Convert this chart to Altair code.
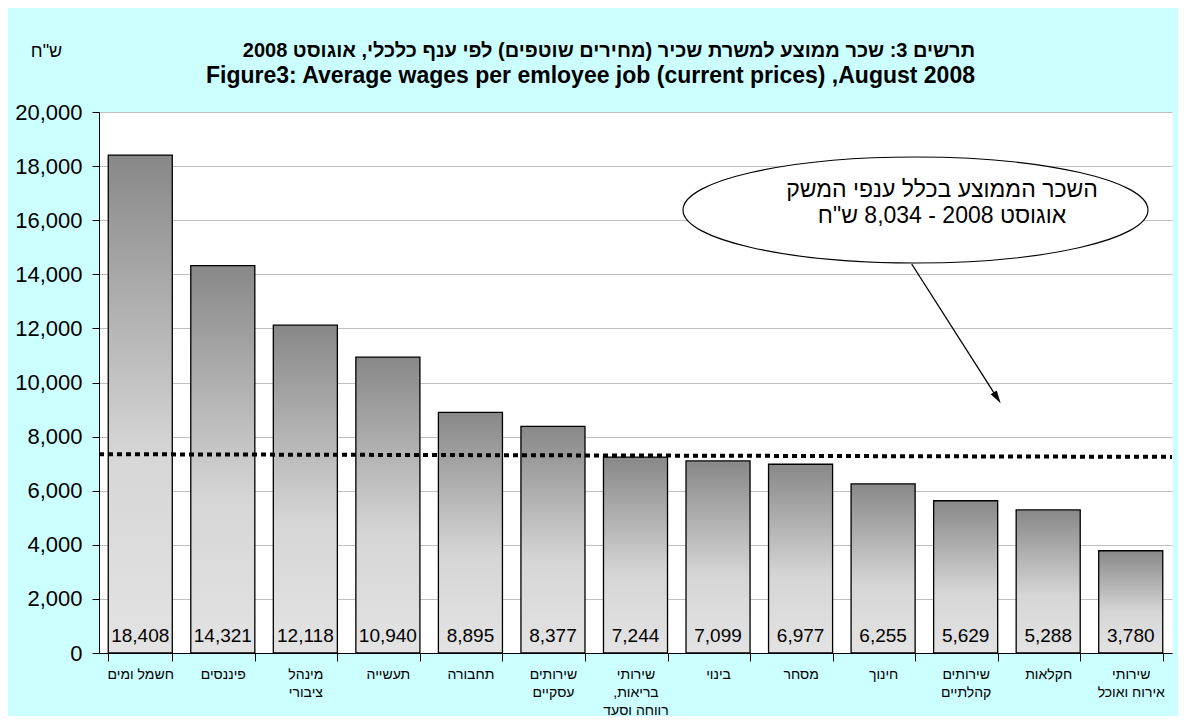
import altair as alt
import pandas as pd

# ---------------- data ----------------
categories = ["חשמל ומים", "פיננסים", "מינהל|ציבורי", "תעשייה", "תחבורה",
              "שירותים|עסקיים", "שירותי|בריאות,\u200f|רווחה וסעד", "בינוי", "מסחר",
              "חינוך", "שירותים|קהלתיים", "חקלאות", "שירותי|אירוח ואוכל"]
wages = [18408, 14321, 12118, 10940, 8895, 8377, 7244, 7099, 6977, 6255, 5629, 5288, 3780]
y_ticks = [0, 2000, 4000, 6000, 8000, 10000, 12000, 14000, 16000, 18000, 20000]
trend_start = [7350]
trend_end = [7250]
note_lines = ["השכר הממוצע בכלל ענפי המשק", "אוגוסט 2008 -  8,034 ש\"ח"]
title_he = "תרשים 3: שכר ממוצע למשרת שכיר (מחירים שוטפים) לפי ענף כלכלי, אוגוסט 2008"
title_en = "Figure3: Average wages per emloyee job (current prices) ,August 2008"
unit_label = "ש\"ח"
# annotation anchor values (data units on the y axis)
ellipse_y = [16377]
note_y = [17120]
arrow_from = [14381]
arrow_to = [9434]

FONT = "Liberation Sans"
W, H = 1073, 541

df = pd.DataFrame({"branch": categories, "wage": wages})
one = pd.DataFrame({"t0": trend_start, "t1": trend_end, "e": ellipse_y, "n": note_y,
                    "a0": arrow_from, "a1": arrow_to})

x_enc = alt.X("branch:N", sort=None,
              scale=alt.Scale(paddingInner=0.224, paddingOuter=0.112),
              axis=alt.Axis(title=None, labelAngle=0, labelExpr="split(datum.label, '|')",
                            labelFontSize=14, labelLineHeight=18, labelPadding=6,
                            tickSize=8, tickBand="extent", domainColor="black",
                            tickColor="black", labelColor="black", labelFont=FONT,
                            labelBaseline="top", labelLimit=200))
y_scale = alt.Scale(domain=[0, 20000], nice=False)
y_axis = alt.Axis(values=y_ticks, format=",d", title=unit_label, titleAngle=0,
                  titleX=-53, titleY=-61, titleFontSize=18, titleFontWeight="normal",
                  titleFont=FONT, titleAlign="center", titleBaseline="middle",
                  titleColor="black", labelFontSize=22, labelFont=FONT,
                  labelPadding=10, tickSize=7, domainColor="black",
                  tickColor="black", gridColor="#c0c0c0", labelColor="black")

gradient = alt.Gradient(gradient="linear",
                        stops=[alt.GradientStop(color="#888888", offset=0),
                               alt.GradientStop(color="#d6d6d6", offset=0.6),
                               alt.GradientStop(color="#e3e3e3", offset=1)],
                        x1=0, x2=0, y1=0, y2=1)

bars = alt.Chart(df).mark_bar(color=gradient, stroke="black", strokeWidth=1.3).encode(
    x=x_enc, y=alt.Y("wage:Q", scale=y_scale, axis=y_axis))

labels = alt.Chart(df).mark_text(font=FONT, fontSize=19, baseline="alphabetic", dy=-11,
                                 color="black").encode(
    x=alt.X("branch:N", sort=None),
    y=alt.YDatum(0, scale=y_scale, axis=y_axis),
    text=alt.Text("wage:Q", format=","))

trend = alt.Chart(one).mark_rule(color="black", strokeWidth=4, strokeDash=[5, 4]).encode(
    x=alt.value(0), x2=alt.value(W),
    y=alt.Y("t0:Q", scale=y_scale, axis=y_axis), y2="t1:Q")

k = 0.5523
ry = 0.228
ellipse_path = (f"M-1,0 C-1,{-k*ry:.4f} {-k:.4f},{-ry} 0,{-ry} "
                f"C{k:.4f},{-ry} 1,{-k*ry:.4f} 1,0 "
                f"C1,{k*ry:.4f} {k:.4f},{ry} 0,{ry} "
                f"C{-k:.4f},{ry} -1,{k*ry:.4f} -1,0 Z")

ellipse = alt.Chart(one).mark_point(shape=ellipse_path, size=465 * 465, filled=True,
                                    fill="white", stroke="black", strokeWidth=1.2,
                                    opacity=1, fillOpacity=1, strokeOpacity=1).encode(
    x=alt.value(816.5), y=alt.Y("e:Q", scale=y_scale, axis=y_axis))

note = alt.Chart(one).mark_text(text=note_lines, font=FONT, fontSize=23, align="center",
                                baseline="middle", lineHeight=26, color="black").encode(
    x=alt.value(843), y=alt.Y("n:Q", scale=y_scale, axis=y_axis))

arrow = alt.Chart(one).mark_rule(color="black", strokeWidth=1.3).encode(
    x=alt.value(812.7), x2=alt.value(898.2),
    y=alt.Y("a0:Q", scale=y_scale, axis=y_axis), y2="a1:Q")

head = alt.Chart(one).mark_point(shape="M0,-1 L0.55,1 L-0.55,1 Z", size=169, filled=True,
                                 color="black", opacity=1, angle=147.4).encode(
    x=alt.value(898.2), y=alt.Y("a1:Q", scale=y_scale, axis=y_axis))

chart = alt.layer(bars, labels, trend, ellipse, note, arrow, head).properties(
    width=W, height=H,
    autosize=alt.AutoSizeParams(type="none"),
    padding={"left": 91, "top": 104, "right": 6, "bottom": 63},
    background="#CCFFFF",
    title=alt.TitleParams(text=title_he, subtitle=title_en, font=FONT, fontSize=20,
                          fontWeight="bold", subtitleFont=FONT, subtitleFontSize=23,
                          subtitleFontWeight="bold", subtitleColor="black",
                          subtitlePadding=4, anchor="end", align="right", dx=-197,
                          offset=-46, color="black", frame="group"),
).resolve_scale(y="shared").configure_view(fill="white", stroke="transparent")

chart.save("out.html", embed_options={"renderer": "svg", "actions": False})
